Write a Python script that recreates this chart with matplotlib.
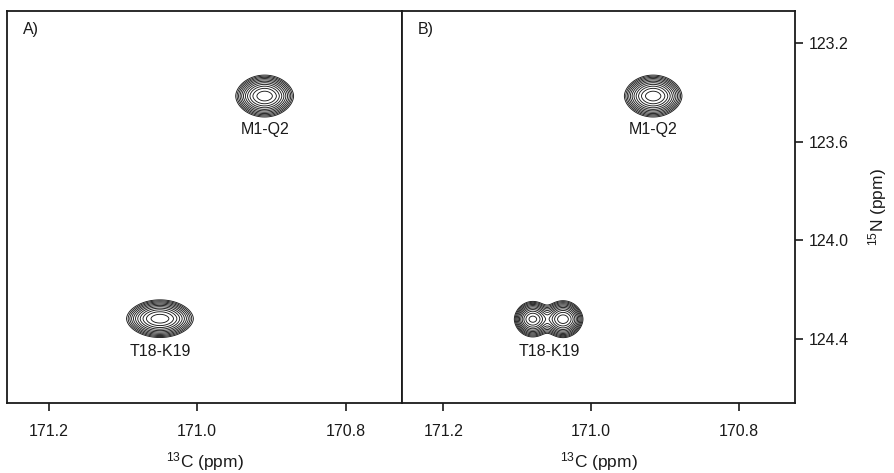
import numpy as np
import matplotlib
matplotlib.use("Agg")
import matplotlib.pyplot as plt

plt.rcParams['font.family'] = ['Liberation Sans', 'DejaVu Sans']
plt.rcParams['mathtext.fontset'] = 'custom'
plt.rcParams['mathtext.rm'] = 'Liberation Sans'
plt.rcParams['mathtext.it'] = 'Liberation Sans:italic'

# ---- data ----
panel_titles = ["A)", "B)"]
xticks = [171.2, 171.0, 170.8]
yticks = [123.2, 123.6, 124.0, 124.4]

# Panel A peaks
a_labels = ["M1-Q2", "T18-K19"]
a_c = [170.909, 171.050]        # 13C (ppm)
a_n = [123.415, 124.318]        # 15N (ppm)
a_amp = [1.0, 1.0]
a_sc = [0.0169, 0.0195]         # 13C width
a_sn = [0.0336, 0.0302]         # 15N width

# Panel B peaks (T18-K19 split into two components)
b_labels = ["M1-Q2", "T18-K19"]
b_label_c = [170.916, 171.056]
b_label_n = [123.415, 124.318]
b_c = [170.916, 171.079, 171.038]
b_n = [123.415, 124.320, 124.320]
b_amp = [1.0, 0.92, 1.0]
b_sc = [0.0169, 0.0110, 0.0117]
b_sn = [0.0336, 0.0290, 0.0296]

xlim = (171.256, 170.724)
ylim = (124.66, 123.07)

W, H = 895, 473
fig = plt.figure(figsize=(W / 100, H / 100), dpi=100)
axA = fig.add_axes([7 / W, 1 - 403 / H, 395 / W, 392 / H])
axB = fig.add_axes([402 / W, 1 - 403 / H, 393 / W, 392 / H])

gx = np.linspace(xlim[1], xlim[0], 700)
gy = np.linspace(ylim[1], ylim[0], 700)
GX, GY = np.meshgrid(gx, gy)

SHAPE_P = 1.8  # line-shape exponent along 15N


def spectrum(cs, ns, amps, scs, sns):
    Z = np.zeros_like(GX)
    for c, n, a, sc, sn in zip(cs, ns, amps, scs, sns):
        Z += a * np.exp(-0.5 * ((GX - c) / sc) ** 2
                        - 0.5 * np.abs((GY - n) / sn) ** SHAPE_P)
    return Z


levels = 0.07 * 1.28 ** np.arange(11)

ZA = spectrum(a_c, a_n, a_amp, a_sc, a_sn)
ZB = spectrum(b_c, b_n, b_amp, b_sc, b_sn)

for ax, Z in [(axA, ZA), (axB, ZB)]:
    ax.contour(GX, GY, Z, levels=levels, colors='#1a1a1a', linewidths=0.65)
    ax.set_xlim(*xlim)
    ax.set_ylim(*ylim)
    ax.set_xticks(xticks)
    ax.set_xticklabels([f"{t:.1f}" for t in xticks])
    ax.tick_params(axis='x', direction='out', length=6, width=1.2, labelsize=11.5,
                   pad=9, colors='#1a1a1a')
    ax.set_xlabel(r"$^{13}$C (ppm)", fontsize=12.5, labelpad=8, color='#1a1a1a')
    for s in ax.spines.values():
        s.set_linewidth(1.3)
        s.set_color('#1a1a1a')

axA.set_yticks([])
axB.yaxis.tick_right()
axB.yaxis.set_label_position('right')
axB.set_yticks(yticks)
axB.set_yticklabels([f"{t:.1f}" for t in yticks])
axB.tick_params(axis='y', direction='out', length=6, width=1.2, labelsize=11.5,
                pad=4, colors='#1a1a1a')
axB.set_ylabel(r"$^{15}$N (ppm)", fontsize=12.5, labelpad=12, color='#1a1a1a')

for ax, t in zip([axA, axB], panel_titles):
    ax.text(0.04, 0.972, t, transform=ax.transAxes, ha='left', va='top',
            fontsize=11.5, color='#1a1a1a')

for lab, c, n in zip(a_labels, a_c, a_n):
    axA.annotate(lab, (c, n), xytext=(0, -33), textcoords='offset pixels',
                 ha='center', va='center', fontsize=11.5, color='#1a1a1a')
for lab, c, n in zip(b_labels, b_label_c, b_label_n):
    axB.annotate(lab, (c, n), xytext=(0, -33), textcoords='offset pixels',
                 ha='center', va='center', fontsize=11.5, color='#1a1a1a')

fig.savefig("out.png", dpi=100)
